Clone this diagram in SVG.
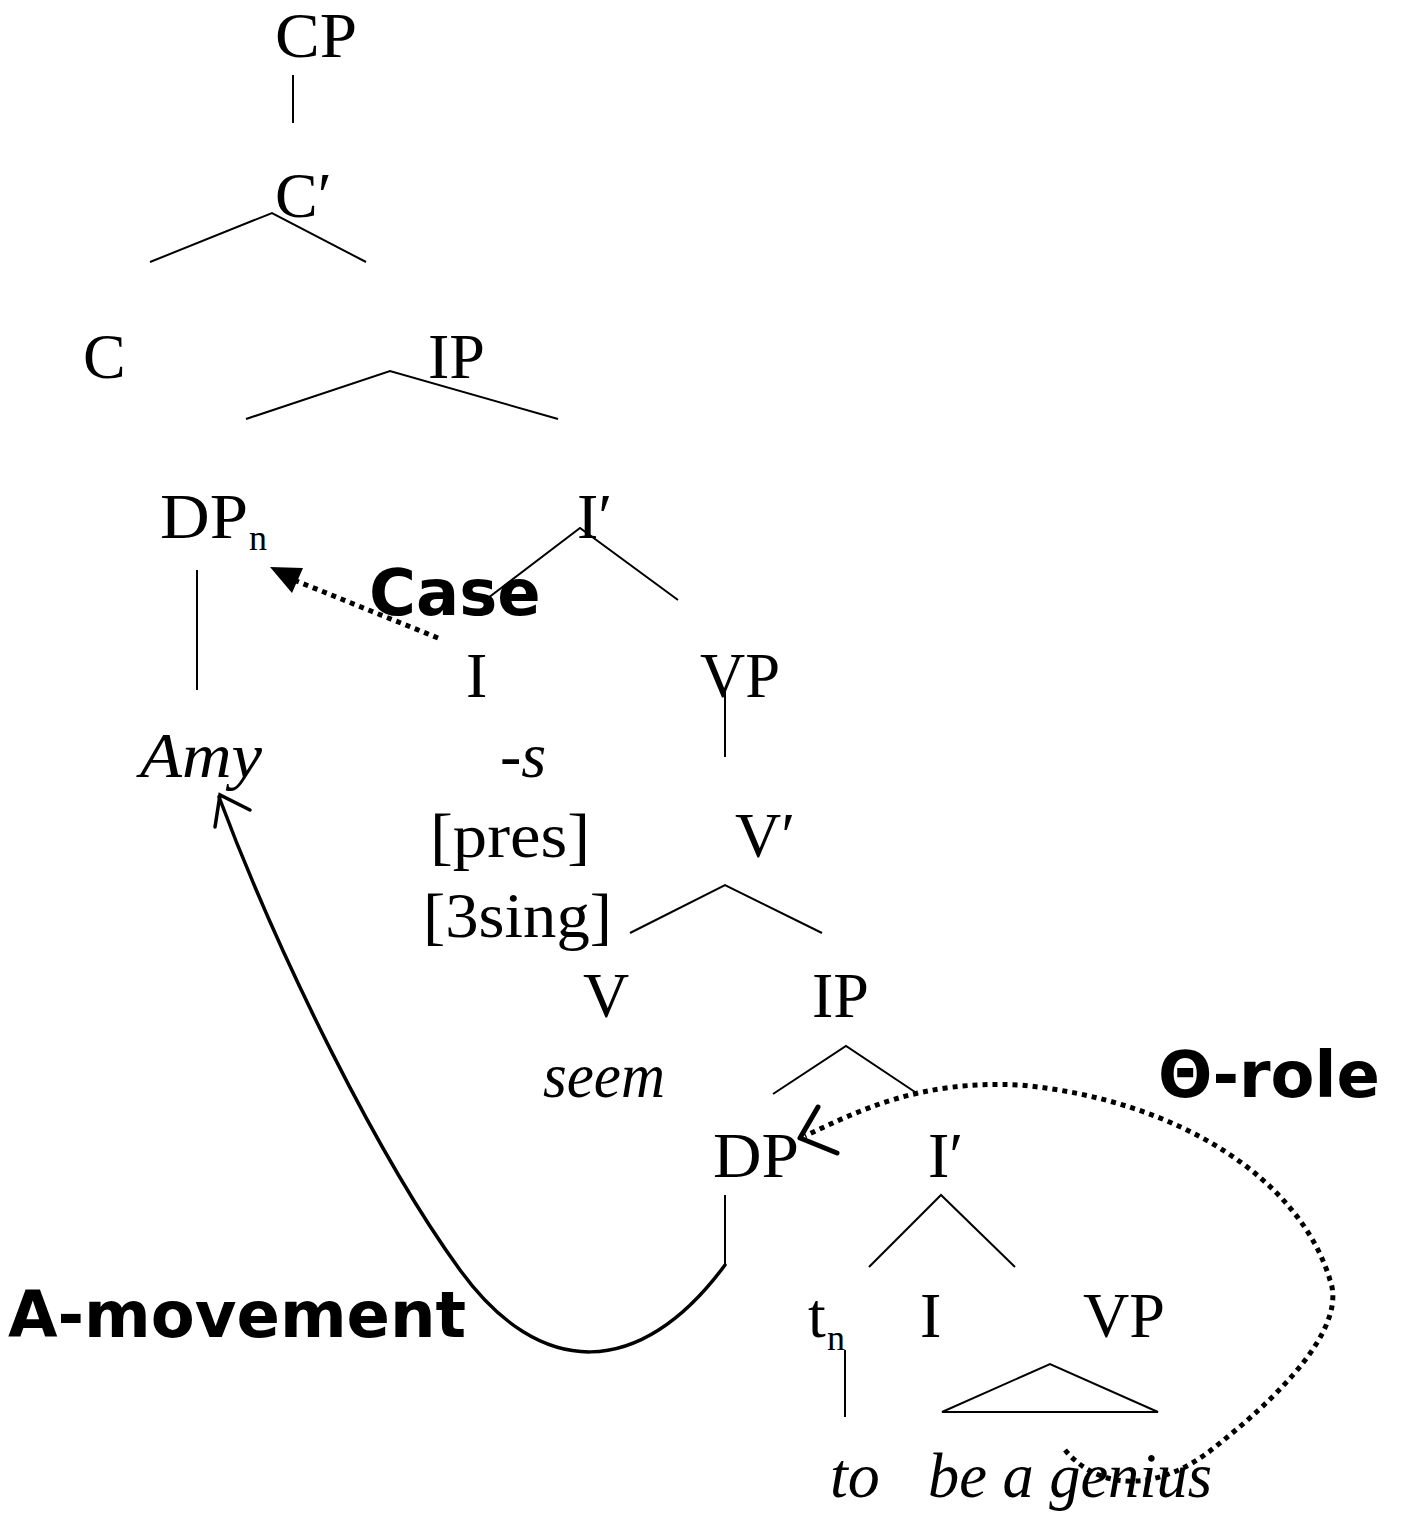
<svg xmlns="http://www.w3.org/2000/svg" width="1402" height="1517" viewBox="0 0 1402 1517">
  <style>
    .lbl { font-family: "Liberation Serif", "Times New Roman", serif; font-size: 64px; fill: #000; }
    .it { font-style: italic; }
    .sub { font-family: "Liberation Serif", "Times New Roman", serif; font-size: 36px; fill: #000; }
    .bold { font-family: "DejaVu Sans", Verdana, sans-serif; font-weight: bold; font-size: 64px; fill: #000; }
    .br { stroke: #000; stroke-width: 2; fill: none; }
    .dot { stroke: #000; stroke-width: 5; fill: none; stroke-dasharray: 5 5; }
    .move { stroke: #000; stroke-width: 3.5; fill: none; stroke-linecap: round; }
  </style>
  <rect width="1402" height="1517" fill="#fff"/>

  <!-- tree branches -->
  <g id="connectors">
    <line class="br" x1="293" y1="75" x2="293" y2="123"/>
    <polyline class="br" points="150,262 272,213 366,262"/>
    <polyline class="br" points="246,419 390,371 558,419"/>
    <line class="br" x1="197" y1="570" x2="197" y2="690"/>
    <polyline class="br" points="488,598 580,528 678,600"/>
    <line class="br" x1="725" y1="688" x2="725" y2="757"/>
    <polyline class="br" points="630,933 725,885 822,933"/>
    <polyline class="br" points="773,1094 846,1046 918,1094"/>
    <line class="br" x1="725" y1="1195" x2="725" y2="1265"/>
    <polyline class="br" points="869,1267 941,1195 1015,1267"/>
    <line class="br" x1="845" y1="1350" x2="845" y2="1417"/>
    <polygon class="br" points="942,1412 1050,1364 1158,1412"/>

    <!-- Case assignment -->
    <line class="dot" x1="438" y1="638" x2="294" y2="580"/>
    <polygon points="270,567 303,568 292,593" fill="#000"/>

    <!-- theta-role assignment -->
    <path class="dot" d="M 1065 1450 C 1100 1492, 1160 1492, 1215 1447 C 1300 1380, 1345 1320, 1330 1280 C 1300 1180, 1180 1100, 1020 1085 C 920 1080, 860 1110, 805 1136"/>
    <polyline points="818,1107 800,1138 837,1153" fill="none" stroke="#000" stroke-width="5" stroke-linecap="round" stroke-linejoin="round"/>

    <!-- A-movement -->
    <path class="move" d="M 725 1265 C 640 1380, 540 1380, 460 1270 C 380 1160, 280 960, 219 797"/>
    <polyline class="move" points="215,827 220,795 250,810"/>
  </g>

  <g id="n-cp"><text class="lbl" x="275" y="57" textLength="82" lengthAdjust="spacingAndGlyphs">CP</text></g>
  <g id="n-cbar"><text class="lbl" x="275" y="217">C′</text></g>
  <g id="n-c"><text class="lbl" x="83" y="378">C</text></g>
  <g id="n-ip1"><text class="lbl" x="428" y="378">IP</text></g>
  <g id="n-dpn"><text class="lbl" x="160" y="538" textLength="88" lengthAdjust="spacingAndGlyphs">DP</text><text class="sub" x="249" y="550">n</text></g>
  <g id="n-ibar1"><text class="lbl" x="577" y="538">I′</text></g>
  <g id="n-i1"><text class="lbl" x="466" y="697">I</text></g>
  <g id="n-vp1"><text class="lbl" x="700" y="697" textLength="80" lengthAdjust="spacingAndGlyphs">VP</text></g>
  <g id="n-amy"><text class="lbl it" x="140" y="777" textLength="122" lengthAdjust="spacingAndGlyphs">Amy</text></g>
  <g id="n-s">
    <text class="lbl it" x="500" y="777">-s</text>
    <text class="lbl" x="430" y="857" textLength="160" lengthAdjust="spacingAndGlyphs">[pres]</text>
    <text class="lbl" x="423" y="937" textLength="189" lengthAdjust="spacingAndGlyphs">[3sing]</text>
  </g>
  <g id="n-vbar"><text class="lbl" x="735" y="857">V′</text></g>
  <g id="n-v"><text class="lbl" x="583" y="1017">V</text><text class="lbl it" x="543" y="1097" textLength="122" lengthAdjust="spacingAndGlyphs">seem</text></g>
  <g id="n-ip2"><text class="lbl" x="812" y="1017">IP</text></g>
  <g id="n-dp"><text class="lbl" x="713" y="1177" textLength="86" lengthAdjust="spacingAndGlyphs">DP</text></g>
  <g id="n-ibar2"><text class="lbl" x="928" y="1177">I′</text></g>
  <g id="n-tn"><text class="lbl" x="808" y="1337">t</text><text class="sub" x="827" y="1350">n</text></g>
  <g id="n-i2"><text class="lbl" x="920" y="1337">I</text><text class="lbl it" x="830" y="1497">to</text></g>
  <g id="n-vp2"><text class="lbl" x="1083" y="1337" textLength="82" lengthAdjust="spacingAndGlyphs">VP</text><text class="lbl it" x="928" y="1497" textLength="284" lengthAdjust="spacingAndGlyphs">be a genius</text></g>

  <g id="labels">
    <text class="bold" x="369" y="615">Case</text>
    <text class="bold" x="1158" y="1097">Θ-role</text>
    <text class="bold" x="8" y="1337">A-movement</text>
  </g>
</svg>
